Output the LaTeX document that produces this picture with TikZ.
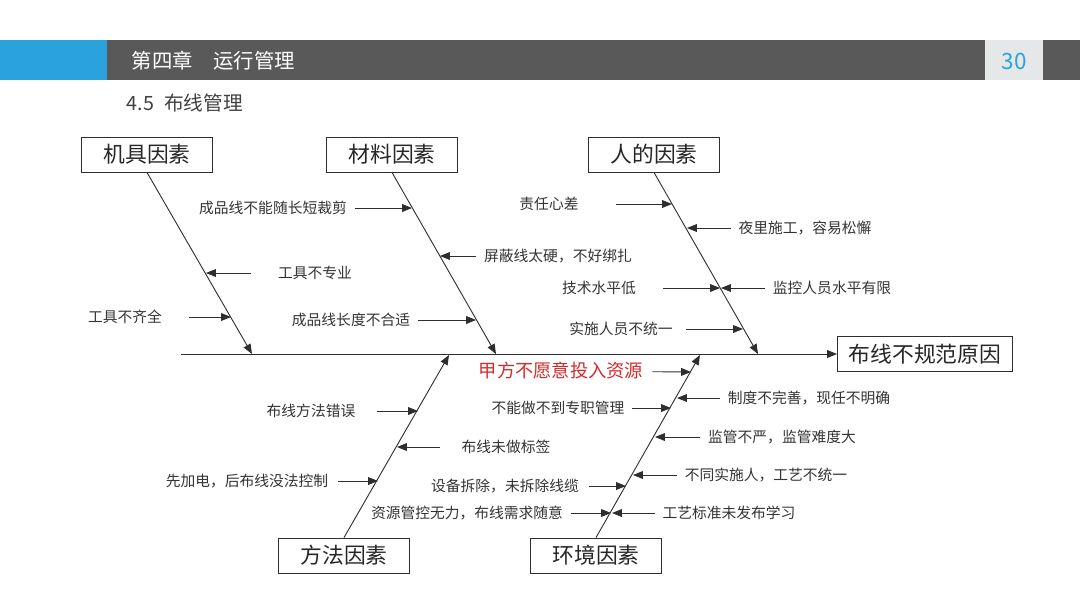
\documentclass[tikz,border=0pt]{standalone}
\usepackage{fontspec}
\setmainfont{Noto Sans CJK SC}
\usepackage{tikz}
\usetikzlibrary{arrows.meta}

\definecolor{barblue}{HTML}{2AA3DC}
\definecolor{bargray}{HTML}{595959}
\definecolor{pagegray}{HTML}{E6E7E9}
\definecolor{linegray}{HTML}{2E2E2E}
\definecolor{causered}{HTML}{D42A2A}

\begin{document}
\begin{tikzpicture}[
		x=0.025cm, y=-0.025cm,
		factor/.style={
			draw=linegray,
			line width=0.6pt,
			minimum width=3.28cm,
			minimum height=0.875cm,
			text=black!85,
			font=\fontsize{15.5}{18}\selectfont
		},
		effect/.style={
			factor,
			minimum width=4.375cm
		},
		cause/.style={
			text=black!80,
			font=\fontsize{10.5}{12}\selectfont
		},
		arrow/.style={-{Triangle[length=7pt,width=5.5pt]}, line width=0.65pt, draw=linegray}
		]
		
		\useasboundingbox (0,0) rectangle (1080,608);
		
		% Header bar
		\fill[barblue] (0,40) rectangle (107,80);
		\fill[bargray] (107,40) rectangle (1080,80);
		\fill[pagegray] (985,40) rectangle (1043,80);
		\node[anchor=west, text=white, font=\fontsize{14.5}{17}\selectfont] (chapter) at (127,61) {第四章　运行管理};
		\node[text=barblue, font=\fontsize{16}{19}\selectfont] (page) at (1014,61) {30};
		\node[anchor=west, text=black!75, font=\fontsize{14}{17}\selectfont] (section) at (122,103) {4.5\enspace 布线管理};
		
		% Factor boxes
		\node[factor] at (147,154.5) (machine) {机具因素};
		\node[factor] at (392,154.5) (material) {材料因素};
		\node[factor] at (654,154.5) (people) {人的因素};
		\node[factor] at (344,555.5) (method) {方法因素};
		\node[factor] at (596,555.5) (environment) {环境因素};
		\node[effect] at (925,354) (problem) {布线不规范原因};
		
		% Spine and bones
		\coordinate (spine) at (181,354);
		\coordinate (b1) at (252,354);
		\coordinate (b2) at (496,354);
		\coordinate (b3) at (758,354);
		\coordinate (b4) at (449,355);
		\coordinate (b5) at (700,355);
		\draw[arrow] (spine) -- (problem.west);
		\draw[arrow] (machine.south) -- (b1);
		\draw[arrow] (material.south) -- (b2);
		\draw[arrow] (people.south) -- (b3);
		\draw[arrow] (method.north) -- (b4);
		\draw[arrow] (environment.north) -- (b5);
		
		% Machine causes
		\node[cause] at (315,273) (m1) {工具不专业};
		\coordinate (m1h) at (206,273);
		\node[cause] at (125,317) (m2) {工具不齐全};
		\coordinate (m2h) at (231,317);
		\draw[arrow, shorten <=16pt] (m1) -- (m1h);
		\draw[arrow, shorten <=16pt] (m2) -- (m2h);
		
		% Material causes
		\node[cause] at (273,208) (t1) {成品线不能随长短裁剪};
		\coordinate (t1h) at (412,208);
		\node[cause] at (558,256) (t2) {屏蔽线太硬，不好绑扎};
		\coordinate (t2h) at (440,256);
		\node[cause] at (351,320) (t3) {成品线长度不合适};
		\coordinate (t3h) at (476,320);
		\draw[arrow, shorten <=2pt] (t1) -- (t1h);
		\draw[arrow, shorten <=2pt] (t2) -- (t2h);
		\draw[arrow, shorten <=2pt] (t3) -- (t3h);
		
		% People causes
		\node[cause] at (549,204) (p1) {责任心差};
		\coordinate (p1h) at (672,204);
		\node[cause] at (805,228) (p2) {夜里施工，容易松懈};
		\coordinate (p2h) at (687,228);
		\node[cause] at (599,288) (p3) {技术水平低};
		\coordinate (p3h) at (720,288);
		\node[cause] at (832,288) (p4) {监控人员水平有限};
		\coordinate (p4h) at (721,288);
		\node[cause] at (621,329) (p5) {实施人员不统一};
		\coordinate (p5h) at (743,329);
		\draw[arrow, shorten <=23pt] (p1) -- (p1h);
		\draw[arrow, shorten <=2pt] (p2) -- (p2h);
		\draw[arrow, shorten <=16pt] (p3) -- (p3h);
		\draw[arrow, shorten <=2pt] (p4) -- (p4h);
		\draw[arrow, shorten <=6pt] (p5) -- (p5h);
		
		% Method causes
		\node[cause] at (311,411) (d1) {布线方法错误};
		\coordinate (d1h) at (418,411);
		\node[cause] at (506,447) (d2) {布线未做标签};
		\coordinate (d2h) at (397,447);
		\node[cause] at (247,481) (d3) {先加电，后布线没法控制};
		\coordinate (d3h) at (378,481);
		\node[cause] at (467,513) (d4) {资源管控无力，布线需求随意};
		\coordinate (d4h) at (611,513);
		\draw[arrow, shorten <=12pt] (d1) -- (d1h);
		\draw[arrow, shorten <=12pt] (d2) -- (d2h);
		\draw[arrow, shorten <=3.5pt] (d3) -- (d3h);
		\draw[arrow, shorten <=2pt] (d4) -- (d4h);
		
		% Environment causes
		\node[cause, text=causered, font=\fontsize{13}{15}\selectfont] at (561,371) (e1) {甲方不愿意投入资源};
		\coordinate (e1h) at (691,372);
		\node[cause] at (558,408) (e2) {不能做不到专职管理};
		\coordinate (e2h) at (671,408);
		\node[cause] at (809,398) (e3) {制度不完善，现任不明确};
		\coordinate (e3h) at (677,398);
		\node[cause] at (782,437) (e4) {监管不严，监管难度大};
		\coordinate (e4h) at (655,437);
		\node[cause] at (766,475) (e5) {不同实施人，工艺不统一};
		\coordinate (e5h) at (633,475);
		\node[cause] at (505,486) (e6) {设备拆除，未拆除线缆};
		\coordinate (e6h) at (626,486);
		\node[cause] at (729,513) (e7) {工艺标准未发布学习};
		\coordinate (e7h) at (612,513);
		\draw[arrow, shorten <=3pt] (e1) -- (e1h);
		\draw[arrow, shorten <=2pt] (e2) -- (e2h);
		\draw[arrow, shorten <=2pt] (e3) -- (e3h);
		\draw[arrow, shorten <=2pt] (e4) -- (e4h);
		\draw[arrow, shorten <=2pt] (e5) -- (e5h);
		\draw[arrow, shorten <=3.5pt] (e6) -- (e6h);
		\draw[arrow, shorten <=2pt] (e7) -- (e7h);
		
	\end{tikzpicture}
\end{document}
